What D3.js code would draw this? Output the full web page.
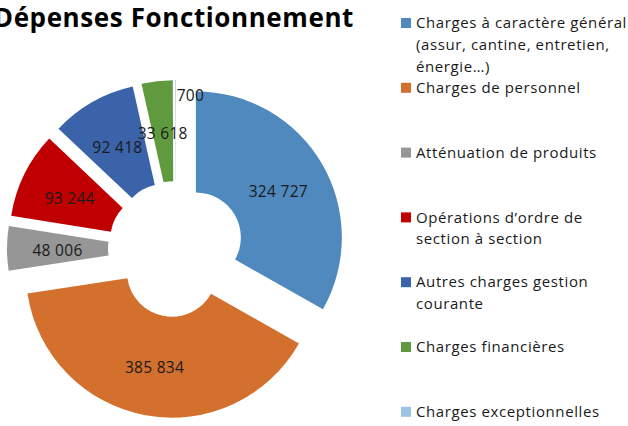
<!DOCTYPE html>
<html>
<head>
<meta charset="utf-8">
<script src="https://cdn.jsdelivr.net/npm/d3@7"></script>
<style>
  body { margin: 0; background: #fff; }
  svg { display: block; }
</style>
</head>
<body>
<svg></svg>
<script>
var categories = [
  ["Charges à caractère général", "(assur, cantine, entretien,", "énergie…)"],
  ["Charges de personnel"],
  ["Atténuation de produits"],
  ["Opérations d’ordre de", "section à section"],
  ["Autres charges gestion", "courante"],
  ["Charges financières"],
  ["Charges exceptionnelles"]
];
var values = [324727, 385834, 48006, 93244, 92418, 33618, 700];
var colors = ["#4F89BE", "#D4702E", "#969696", "#C00000", "#3A63AA", "#5F9A3F", "#9CC2E5"];

var width = 628,
  height = 426,
  radius = 146,
  hole = 45,
  explode = 23;

var fmt = function (v) {
  return d3.format(",")(v).replace(/,/g, " ");
};

var svg = d3.select("svg").attr("width", width).attr("height", height);

svg
  .append("text")
  .attr("x", 354)
  .attr("y", 27)
  .attr("text-anchor", "end")
  .attr("font-family", "Open Sans")
  .attr("font-weight", "bold")
  .attr("font-size", "26px")
  .attr("letter-spacing", "0.6px")
  .attr("fill", "#000")
  .text("Dépenses Fonctionnement");

var group = svg.append("g").attr("transform", "translate(176,249)");

var pie = d3.pie().sort(null).value(function (d) {
  return d;
});

var arc = d3.arc().innerRadius(hole).outerRadius(radius);

var arcs = group
  .selectAll(".arc")
  .data(pie(values))
  .enter()
  .append("g")
  .attr("class", "arc")
  .attr("transform", function (d) {
    var a = (d.startAngle + d.endAngle) / 2;
    return "translate(" + explode * Math.sin(a) + "," + -explode * Math.cos(a) + ")";
  });

arcs
  .append("path")
  .attr("d", arc)
  .attr("fill", function (d, i) {
    return colors[i];
  });

arcs
  .append("text")
  .each(function (d) {
    var t = d3.select(this);
    var a = (d.startAngle + d.endAngle) / 2;
    if (d.endAngle - d.startAngle < 0.05) {
      // tiny slice: label sits beside it, near the outer edge
      var rr = radius - 16;
      t.attr("x", rr * Math.sin(a) + 1)
        .attr("y", -rr * Math.cos(a))
        .attr("text-anchor", "start");
    } else {
      var c = arc.centroid(d);
      t.attr("x", c[0]).attr("y", c[1] + 2).attr("text-anchor", "middle");
    }
  })
  .attr("dy", "0.35em")
  .attr("font-family", "Open Sans")
  .attr("font-size", "15.5px")
  .attr("letter-spacing", "0.3px")
  .attr("fill", "#1a1a1a")
  .text(function (d) {
    return fmt(d.data);
  });

var legend = svg
  .selectAll(".legend")
  .data(categories)
  .enter()
  .append("g")
  .attr("class", "legend")
  .attr("transform", function (d, i) {
    return "translate(401," + (23 + i * 64.8) + ")";
  });

legend
  .append("rect")
  .attr("x", 0)
  .attr("y", -5)
  .attr("width", 10)
  .attr("height", 10)
  .attr("fill", function (d, i) {
    return colors[i];
  });

legend
  .append("text")
  .attr("font-family", "Open Sans")
  .attr("font-size", "15px")
  .attr("letter-spacing", "0.6px")
  .attr("fill", "#1a1a1a")
  .selectAll("tspan")
  .data(function (d) {
    return d;
  })
  .enter()
  .append("tspan")
  .attr("x", 15)
  .attr("y", function (d, i) {
    return i * 21.8;
  })
  .attr("dy", "0.35em")
  .text(function (d) {
    return d;
  });
</script>
</body>
</html>
